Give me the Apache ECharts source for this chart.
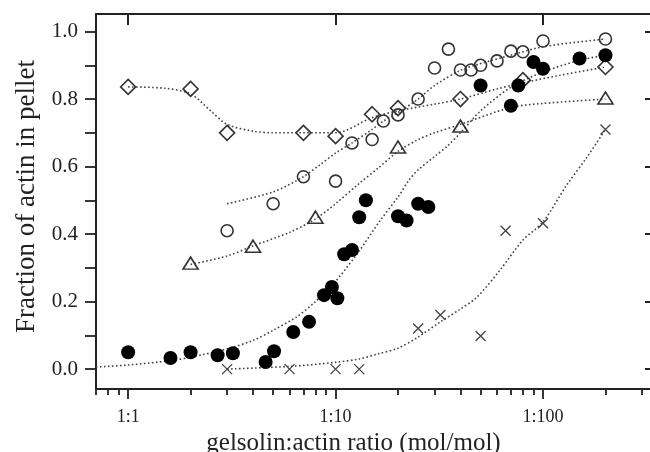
<!DOCTYPE html>
<html>
<head>
<meta charset="utf-8">
<script src="https://cdn.jsdelivr.net/npm/echarts@6/dist/echarts.min.js"></script>
<style>html,body{margin:0;padding:0;background:#fff}#c{width:650px;height:452px}</style>
</head>
<body>
<div id="c"></div>
<script>
// ---- data ----
const ratioFilled = [1, 1.6, 2, 2.7, 3.2, 4.6, 5.05, 6.25, 7.45, 8.8, 9.6, 10.2, 11, 12, 13, 14, 20, 22, 25, 28, 50, 70, 76, 90, 100, 150, 200];
const fracFilled  = [0.05, 0.033, 0.05, 0.041, 0.047, 0.021, 0.053, 0.11, 0.14, 0.219, 0.243, 0.21, 0.34, 0.353, 0.45, 0.50, 0.453, 0.44, 0.49, 0.48, 0.84, 0.78, 0.84, 0.91, 0.89, 0.92, 0.93];

const ratioOpen = [3, 5, 7, 10, 12, 15, 17, 20, 25, 30, 35, 40, 45, 50, 60, 70, 80, 100, 200];
const fracOpen  = [0.41, 0.49, 0.57, 0.557, 0.67, 0.68, 0.735, 0.753, 0.80, 0.892, 0.948, 0.886, 0.886, 0.90, 0.913, 0.942, 0.94, 0.972, 0.978];

const ratioDiamond = [1, 2, 3, 7, 10, 15, 20, 40, 80, 200];
const fracDiamond  = [0.836, 0.83, 0.70, 0.70, 0.69, 0.755, 0.773, 0.80, 0.856, 0.895];

const ratioTri = [2, 4, 8, 20, 40, 200];
const fracTri  = [0.314, 0.364, 0.45, 0.658, 0.72, 0.803];

const ratioCross = [3, 6, 10, 13, 25, 32, 50, 66, 100, 200];
const fracCross  = [0, 0, 0, 0, 0.12, 0.16, 0.098, 0.41, 0.432, 0.71];

// fitted curves (dotted)
const fitFilledX = [0.7, 1, 1.6, 2, 3, 4, 5, 6.5, 8, 10, 13, 16.4, 20, 22.6, 25, 30, 34.5, 40, 50, 70, 100, 150, 200];
const fitFilledY = [0.006, 0.012, 0.025, 0.035, 0.06, 0.085, 0.115, 0.155, 0.2, 0.26, 0.35, 0.44, 0.51, 0.56, 0.59, 0.63, 0.66, 0.70, 0.765, 0.835, 0.88, 0.915, 0.93];

const fitOpenX = [3, 5, 7, 8.4, 10, 12, 15, 17, 20, 25, 30, 40, 50, 70, 100, 200];
const fitOpenY = [0.49, 0.525, 0.57, 0.605, 0.64, 0.67, 0.71, 0.735, 0.76, 0.80, 0.84, 0.885, 0.905, 0.93, 0.955, 0.978];

const fitDiamondX = [1, 1.5, 2, 2.5, 3, 4, 5, 7, 10, 15, 20, 30, 40, 60, 80, 120, 200];
const fitDiamondY = [0.836, 0.832, 0.815, 0.765, 0.725, 0.705, 0.70, 0.70, 0.70, 0.745, 0.765, 0.785, 0.80, 0.83, 0.848, 0.87, 0.895];

const fitTriX = [2, 3, 4, 6, 8, 10, 13, 16, 20, 25, 30, 40, 70, 100, 200];
const fitTriY = [0.31, 0.335, 0.365, 0.405, 0.445, 0.49, 0.55, 0.595, 0.645, 0.68, 0.70, 0.725, 0.775, 0.787, 0.80];

const fitCrossX = [3, 6, 10, 13, 16, 20, 25, 32, 40, 48, 62, 80, 100, 130, 163, 200];
const fitCrossY = [0.0, 0.008, 0.02, 0.03, 0.045, 0.062, 0.095, 0.14, 0.178, 0.213, 0.293, 0.382, 0.436, 0.545, 0.628, 0.71];

// axis ticks
const xMajorTicks = [1, 10, 100];
const xMinorTicks = [0.7, 0.8, 0.9, 2, 3, 4, 5, 6, 7, 8, 9, 20, 30, 40, 50, 60, 70, 80, 90, 200, 300];
const yMinorTicks = [0, 0.1, 0.2, 0.3, 0.4, 0.5, 0.6, 0.7, 0.8, 0.9, 1.0];
const yLabelTicks = [0, 0.2, 0.4, 0.6, 0.8, 1.0];

// ---- chart ----
const zip = (a, b) => a.map((v, i) => [v, b[i]]);
const FONT = 'Liberation Serif';
const INK = '#222';
const X_MIN = 0.7, X_MAX = 339, Y_MIN = -0.059, Y_MAX = 1.052;

const chart = echarts.init(document.getElementById('c'), null, {renderer: 'canvas'});

function fitLine(xs, ys) {
  return {
    type: 'line', data: zip(xs, ys), smooth: 0.3, symbol: 'none', z: 1, silent: true,
    lineStyle: {color: '#444', width: 1.6, type: [1.6, 2.4]}
  };
}
const hollow = {color: 'rgba(0,0,0,0)', borderColor: '#333', borderWidth: 1.6, opacity: 1};

const baseX = {type: 'log', logBase: 10, min: X_MIN, max: X_MAX, splitLine: {show: false}};

chart.setOption({
  animation: false,
  backgroundColor: '#fff',
  grid: {left: 96, top: 14, right: -3, bottom: 63, containLabel: false, outerBoundsMode: 'none'},
  xAxis: [
    Object.assign({}, baseX, {
      position: 'bottom',
      axisLine: {show: true, onZero: false, lineStyle: {color: INK, width: 2}},
      axisTick: {show: true, inside: false, length: 10, customValues: xMajorTicks, lineStyle: {color: INK, width: 1.8}},
      axisLabel: {show: true, customValues: xMajorTicks, margin: 19, formatter: v => '1:' + Math.round(v),
        fontFamily: FONT, fontSize: 18, color: INK},
      name: 'gelsolin:actin ratio (mol/mol)', nameLocation: 'middle', nameGap: 35,
      nameTextStyle: {fontFamily: FONT, fontSize: 25, color: INK, padding: [0, 42, 0, 0]}
    }),
    Object.assign({}, baseX, {
      position: 'bottom',
      axisLine: {show: false, onZero: false},
      axisTick: {show: true, inside: false, length: 6, customValues: xMinorTicks, lineStyle: {color: INK, width: 1.8}},
      axisLabel: {show: false}
    }),
    Object.assign({}, baseX, {
      position: 'top',
      axisLine: {show: true, onZero: false, lineStyle: {color: INK, width: 2}},
      axisTick: {show: true, inside: true, length: 11, customValues: xMajorTicks, lineStyle: {color: INK, width: 2}},
      axisLabel: {show: false}
    })
  ],
  yAxis: [
    {
      type: 'value', min: Y_MIN, max: Y_MAX, position: 'left', splitLine: {show: false},
      axisLine: {show: true, onZero: false, lineStyle: {color: INK, width: 2}},
      axisTick: {show: true, inside: false, length: 11, customValues: yMinorTicks, lineStyle: {color: INK, width: 1.8}},
      axisLabel: {show: true, customValues: yLabelTicks, margin: 18, formatter: v => v.toFixed(1),
        fontFamily: FONT, fontSize: 21, color: INK},
      name: 'Fraction of actin in pellet', nameLocation: 'middle', nameRotate: 90, nameGap: 56,
      nameTextStyle: {fontFamily: FONT, fontSize: 27, color: INK, padding: [0, 0, 0, 10]}
    },
    {
      type: 'value', min: Y_MIN, max: Y_MAX, position: 'right', splitLine: {show: false},
      axisLine: {show: true, onZero: false, lineStyle: {color: INK, width: 2}},
      axisTick: {show: true, inside: true, length: 8, customValues: yLabelTicks, lineStyle: {color: INK, width: 2}},
      axisLabel: {show: false}
    }
  ],
  series: [
    fitLine(fitFilledX, fitFilledY),
    fitLine(fitOpenX, fitOpenY),
    fitLine(fitDiamondX, fitDiamondY),
    fitLine(fitTriX, fitTriY),
    fitLine(fitCrossX, fitCrossY),
    {type: 'scatter', data: zip(ratioDiamond, fracDiamond), symbol: 'diamond', symbolSize: [15, 15], itemStyle: hollow, z: 3},
    {type: 'scatter', data: zip(ratioOpen, fracOpen), symbol: 'circle', symbolSize: 12, itemStyle: hollow, z: 3},
    {type: 'scatter', data: zip(ratioTri, fracTri), symbol: 'triangle', symbolSize: [15, 12], itemStyle: hollow, z: 3},
    {type: 'scatter', data: zip(ratioCross, fracCross), symbol: 'path://M0,0L10,10M10,0L0,10', symbolSize: 10,
      itemStyle: {color: 'rgba(0,0,0,0)', borderColor: '#444', borderWidth: 1.3, opacity: 1}, z: 3},
    {type: 'scatter', data: zip(ratioFilled, fracFilled), symbol: 'circle', symbolSize: 14, itemStyle: {color: '#000', opacity: 1}, z: 4}
  ]
});
</script>
</body>
</html>
